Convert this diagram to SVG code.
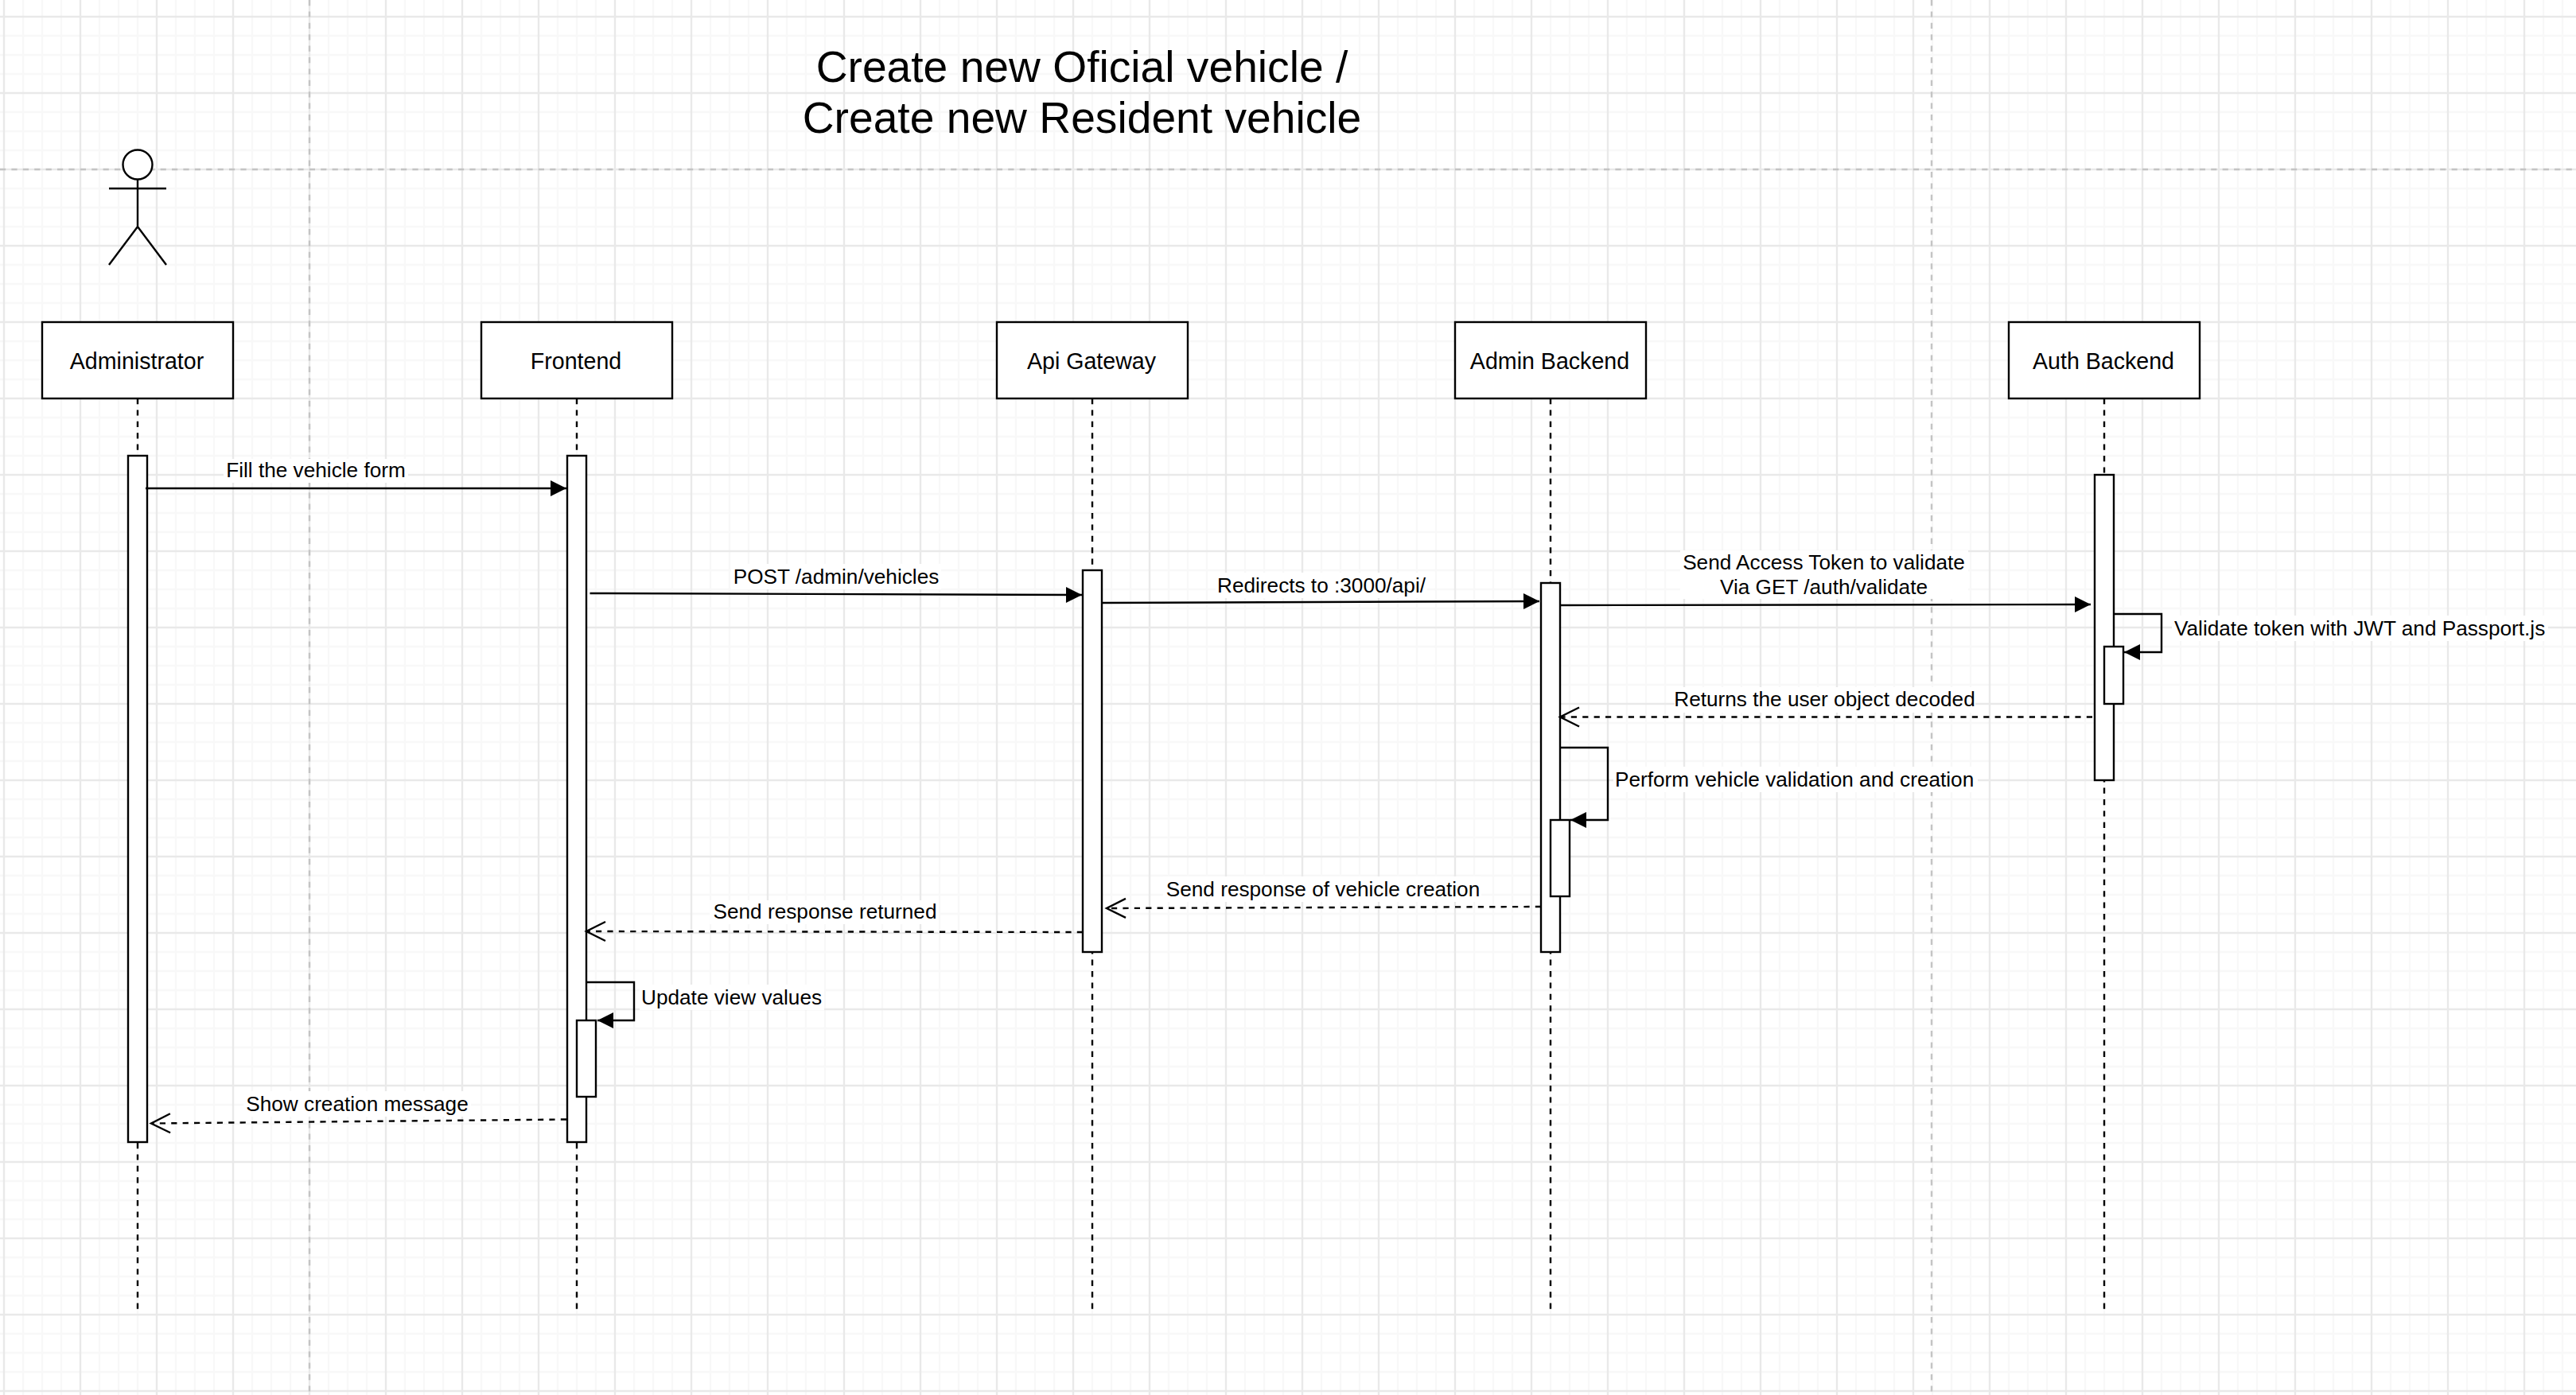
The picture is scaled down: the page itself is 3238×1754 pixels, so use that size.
<svg xmlns="http://www.w3.org/2000/svg" width="3238" height="1754" viewBox="0 0 3238 1754">
<style>
text{font-family:"Liberation Sans",Arial,Helvetica,sans-serif;fill:#000}
.t{font-size:55.2px;text-anchor:middle}
.n{font-size:28.6px;text-anchor:middle}
.e{font-size:26.2px;text-anchor:middle}
.s{font-size:26.2px;text-anchor:start}
.box{fill:#fff;stroke:#000;stroke-width:2.4}
.ln{fill:none;stroke:#000;stroke-width:2.4}
.life{fill:none;stroke:#000;stroke-width:2.4;stroke-dasharray:7.2 7.2}
.sync{fill:none;stroke:#000;stroke-width:2.4;marker-end:url(#block)}
.ret{fill:none;stroke:#000;stroke-width:2.4;stroke-dasharray:7.2 7.2;marker-end:url(#open)}
.bg{fill:#fff}
.pg{stroke:#c4c4c4;stroke-width:2.4;stroke-dasharray:7.2 7.2;fill:none}
</style>
<defs>
<pattern id="grid" patternUnits="userSpaceOnUse" x="-43" y="-27" width="96" height="96">
<path d="M0 0V96M24 0V96M72 0V96M96 0V96M0 0H96M0 24H96M0 72H96M0 96H96" stroke="#f8f8f8" stroke-width="2.4" fill="none"/>
<path d="M48 0V96M0 48H96" stroke="#e9e9e9" stroke-width="2.4" fill="none"/>
</pattern>
<marker id="block" markerUnits="userSpaceOnUse" markerWidth="24" markerHeight="24" viewBox="0 0 24 24" refX="22" refY="12" orient="auto">
<path d="M2 2L22 12L2 22Z" fill="#000"/>
</marker>
<marker id="open" markerUnits="userSpaceOnUse" markerWidth="30" markerHeight="30" viewBox="0 0 30 30" refX="26" refY="15" orient="auto">
<path d="M2 3L26 15L2 27" fill="none" stroke="#000" stroke-width="2.4" stroke-dasharray="none"/>
</marker>
</defs>
<rect width="3238" height="1754" fill="#fff"/>
<rect id="grid-bg" width="3238" height="1754" fill="url(#grid)"/>
<g id="page-breaks">
<path class="pg" d="M389 0V1754M2428 0V1754M0 213H3238"/>
</g>
<g id="title">
<text class="t" x="1360" y="103">Create new Oficial vehicle /</text>
<text class="t" x="1360" y="167">Create new Resident vehicle</text>
</g>
<g id="lifelines">
<path class="life" d="M173 501V1646"/>
<path class="life" d="M725 501V1646"/>
<path class="life" d="M1373 501V1646"/>
<path class="life" d="M1949 501V1646"/>
<path class="life" d="M2645 501V1646"/>
</g>
<g id="actor">
<circle class="box" cx="173" cy="207" r="18.5"/>
<path class="ln" d="M173 225.500V285M137 237H209M137 333L173 285L209 333"/>
</g>
<g id="node-administrator"><rect class="box" x="53" y="405" width="240" height="96"/><text class="n" x="172" y="464">Administrator</text></g>
<g id="node-frontend"><rect class="box" x="605" y="405" width="240" height="96"/><text class="n" x="724" y="464">Frontend</text></g>
<g id="node-api-gateway"><rect class="box" x="1253" y="405" width="240" height="96"/><text class="n" x="1372" y="464">Api Gateway</text></g>
<g id="node-admin-backend"><rect class="box" x="1829" y="405" width="240" height="96"/><text class="n" x="1948" y="464">Admin Backend</text></g>
<g id="node-auth-backend"><rect class="box" x="2525" y="405" width="240" height="96"/><text class="n" x="2644" y="464">Auth Backend</text></g>
<g id="act-administrator"><rect class="box" x="161" y="573" width="24" height="863"/></g>
<g id="act-frontend"><rect class="box" x="713" y="573" width="24" height="863"/></g>
<g id="act-frontend-self"><rect class="box" x="725" y="1283" width="24" height="96"/></g>
<g id="act-api"><rect class="box" x="1361" y="717" width="24" height="480"/></g>
<g id="act-admin"><rect class="box" x="1937" y="733" width="24" height="464"/></g>
<g id="act-admin-self"><rect class="box" x="1949" y="1031" width="24" height="96"/></g>
<g id="act-auth"><rect class="box" x="2633" y="597" width="24" height="384"/></g>
<g id="act-auth-self"><rect class="box" x="2645" y="813" width="24" height="72"/></g>
<g id="connectors">
<rect class="bg" x="281" y="577" width="232" height="30"/>
<rect class="bg" x="919" y="709" width="264" height="32"/>
<rect class="bg" x="1528" y="720" width="266" height="32"/>
<rect class="bg" x="2112" y="692" width="362" height="61"/>
<rect class="bg" x="2105" y="864" width="378" height="32"/>
<rect class="bg" x="2730" y="774" width="473" height="32"/>
<rect class="bg" x="2028" y="964" width="458" height="32"/>
<rect class="bg" x="1462" y="1102" width="400" height="32"/>
<rect class="bg" x="892" y="1132" width="288" height="30"/>
<rect class="bg" x="804" y="1238" width="232" height="32"/>
<rect class="bg" x="306" y="1372" width="286" height="32"/>
<path class="sync" d="M183 614H712"/>
<path class="sync" d="M741.500 746L1360 748"/>
<path class="sync" d="M1385 758L1935 756"/>
<path class="sync" d="M1961 761L2628 760"/>
<path class="sync" d="M2657 772H2717V820H2670"/>
<path class="ret" d="M2630 901.500H1961"/>
<path class="sync" d="M1961 940H2021V1031H1974"/>
<path class="ret" d="M1937 1140L1391 1142"/>
<path class="ret" d="M1361 1172L737 1171"/>
<path class="sync" d="M737 1235H797V1283H751"/>
<path class="ret" d="M712 1407.500L190 1412.500"/>
<text class="e" x="397" y="600">Fill the vehicle form</text>
<text class="e" x="1051" y="734">POST /admin/vehicles</text>
<text class="e" x="1661" y="744.500">Redirects to :3000/api/</text>
<text class="e" x="2292.500" y="716">Send Access Token to validate</text>
<text class="e" x="2292.500" y="747">Via GET /auth/validate</text>
<text class="e" x="2293.500" y="888">Returns the user object decoded</text>
<text class="s" x="2733" y="799">Validate token with JWT and Passport.js</text>
<text class="s" x="2030" y="989">Perform vehicle validation and creation</text>
<text class="e" x="1663" y="1127">Send response of vehicle creation</text>
<text class="e" x="1037" y="1155">Send response returned</text>
<text class="s" x="806" y="1263">Update view values</text>
<text class="e" x="449" y="1397">Show creation message</text>
</g>
</svg>
